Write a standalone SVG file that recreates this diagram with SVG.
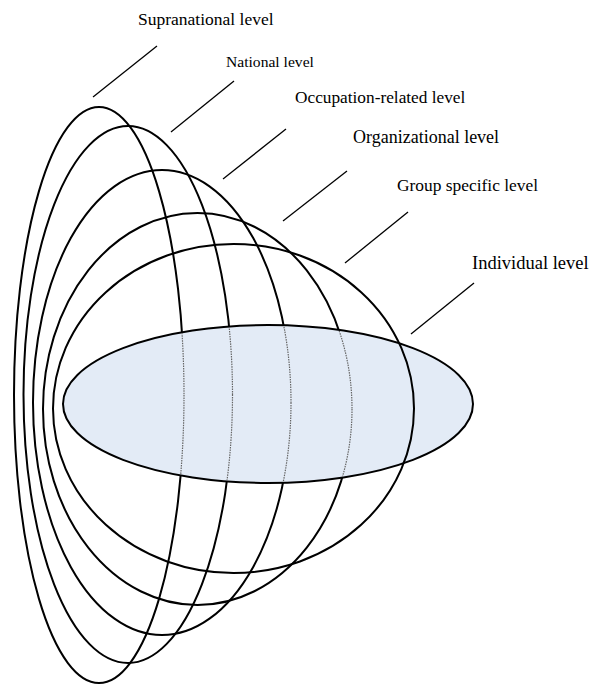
<svg xmlns="http://www.w3.org/2000/svg" width="592" height="685" viewBox="0 0 592 685">
<style>
.ring{fill:none;stroke:#000;stroke-width:2}
.hid{fill:none;stroke:#666;stroke-width:1.2;stroke-dasharray:1.5 1}
.lead{stroke:#000;stroke-width:1.3;fill:none}
.lbl{font-family:"Liberation Serif","Times New Roman",serif;fill:#000}
</style>
<defs>
<clipPath id="inner"><ellipse cx="268" cy="404" rx="204" ry="78"/></clipPath>
</defs>
<rect width="592" height="685" fill="#fff"/>
<g id="supranational"><ellipse class="ring" cx="99" cy="395" rx="85" ry="288"/></g>
<g id="national"><ellipse class="ring" cx="128" cy="394.5" rx="104.5" ry="268.5"/></g>
<g id="occupation"><ellipse class="ring" cx="162" cy="402.5" rx="129" ry="232.5"/></g>
<g id="organizational"><ellipse class="ring" cx="197.5" cy="409" rx="154.5" ry="196"/></g>
<g id="individual">
<ellipse cx="268" cy="404" rx="205" ry="79" fill="#E3EBF6" stroke="#000" stroke-width="2"/>
<g clip-path="url(#inner)">
<ellipse class="hid" cx="99" cy="395" rx="85" ry="288"/>
<ellipse class="hid" cx="128" cy="394.5" rx="104.5" ry="268.5"/>
<ellipse class="hid" cx="162" cy="402.5" rx="129" ry="232.5"/>
<ellipse class="hid" cx="197.5" cy="409" rx="154.5" ry="196"/>
</g>
</g>
<g id="group"><ellipse class="ring" cx="233.5" cy="408.5" rx="180.5" ry="164.5"/></g>
<g id="connectors">
<line class="lead" x1="93" y1="97" x2="157" y2="46"/>
<line class="lead" x1="171" y1="132" x2="234" y2="81"/>
<line class="lead" x1="223" y1="179" x2="286" y2="129"/>
<line class="lead" x1="283" y1="221" x2="347" y2="171"/>
<line class="lead" x1="345" y1="263" x2="408" y2="212"/>
<line class="lead" x1="411" y1="334" x2="474" y2="283"/>
</g>
<g id="labels">
<text class="lbl" x="138" y="25" font-size="17.5">Supranational level</text>
<text class="lbl" x="226" y="67" font-size="15.6">National level</text>
<text class="lbl" x="295" y="103" font-size="17.3">Occupation-related level</text>
<text class="lbl" x="353" y="143" font-size="18">Organizational level</text>
<text class="lbl" x="397" y="191" font-size="17.4">Group specific level</text>
<text class="lbl" x="472" y="269" font-size="18.5">Individual level</text>
</g>
</svg>
